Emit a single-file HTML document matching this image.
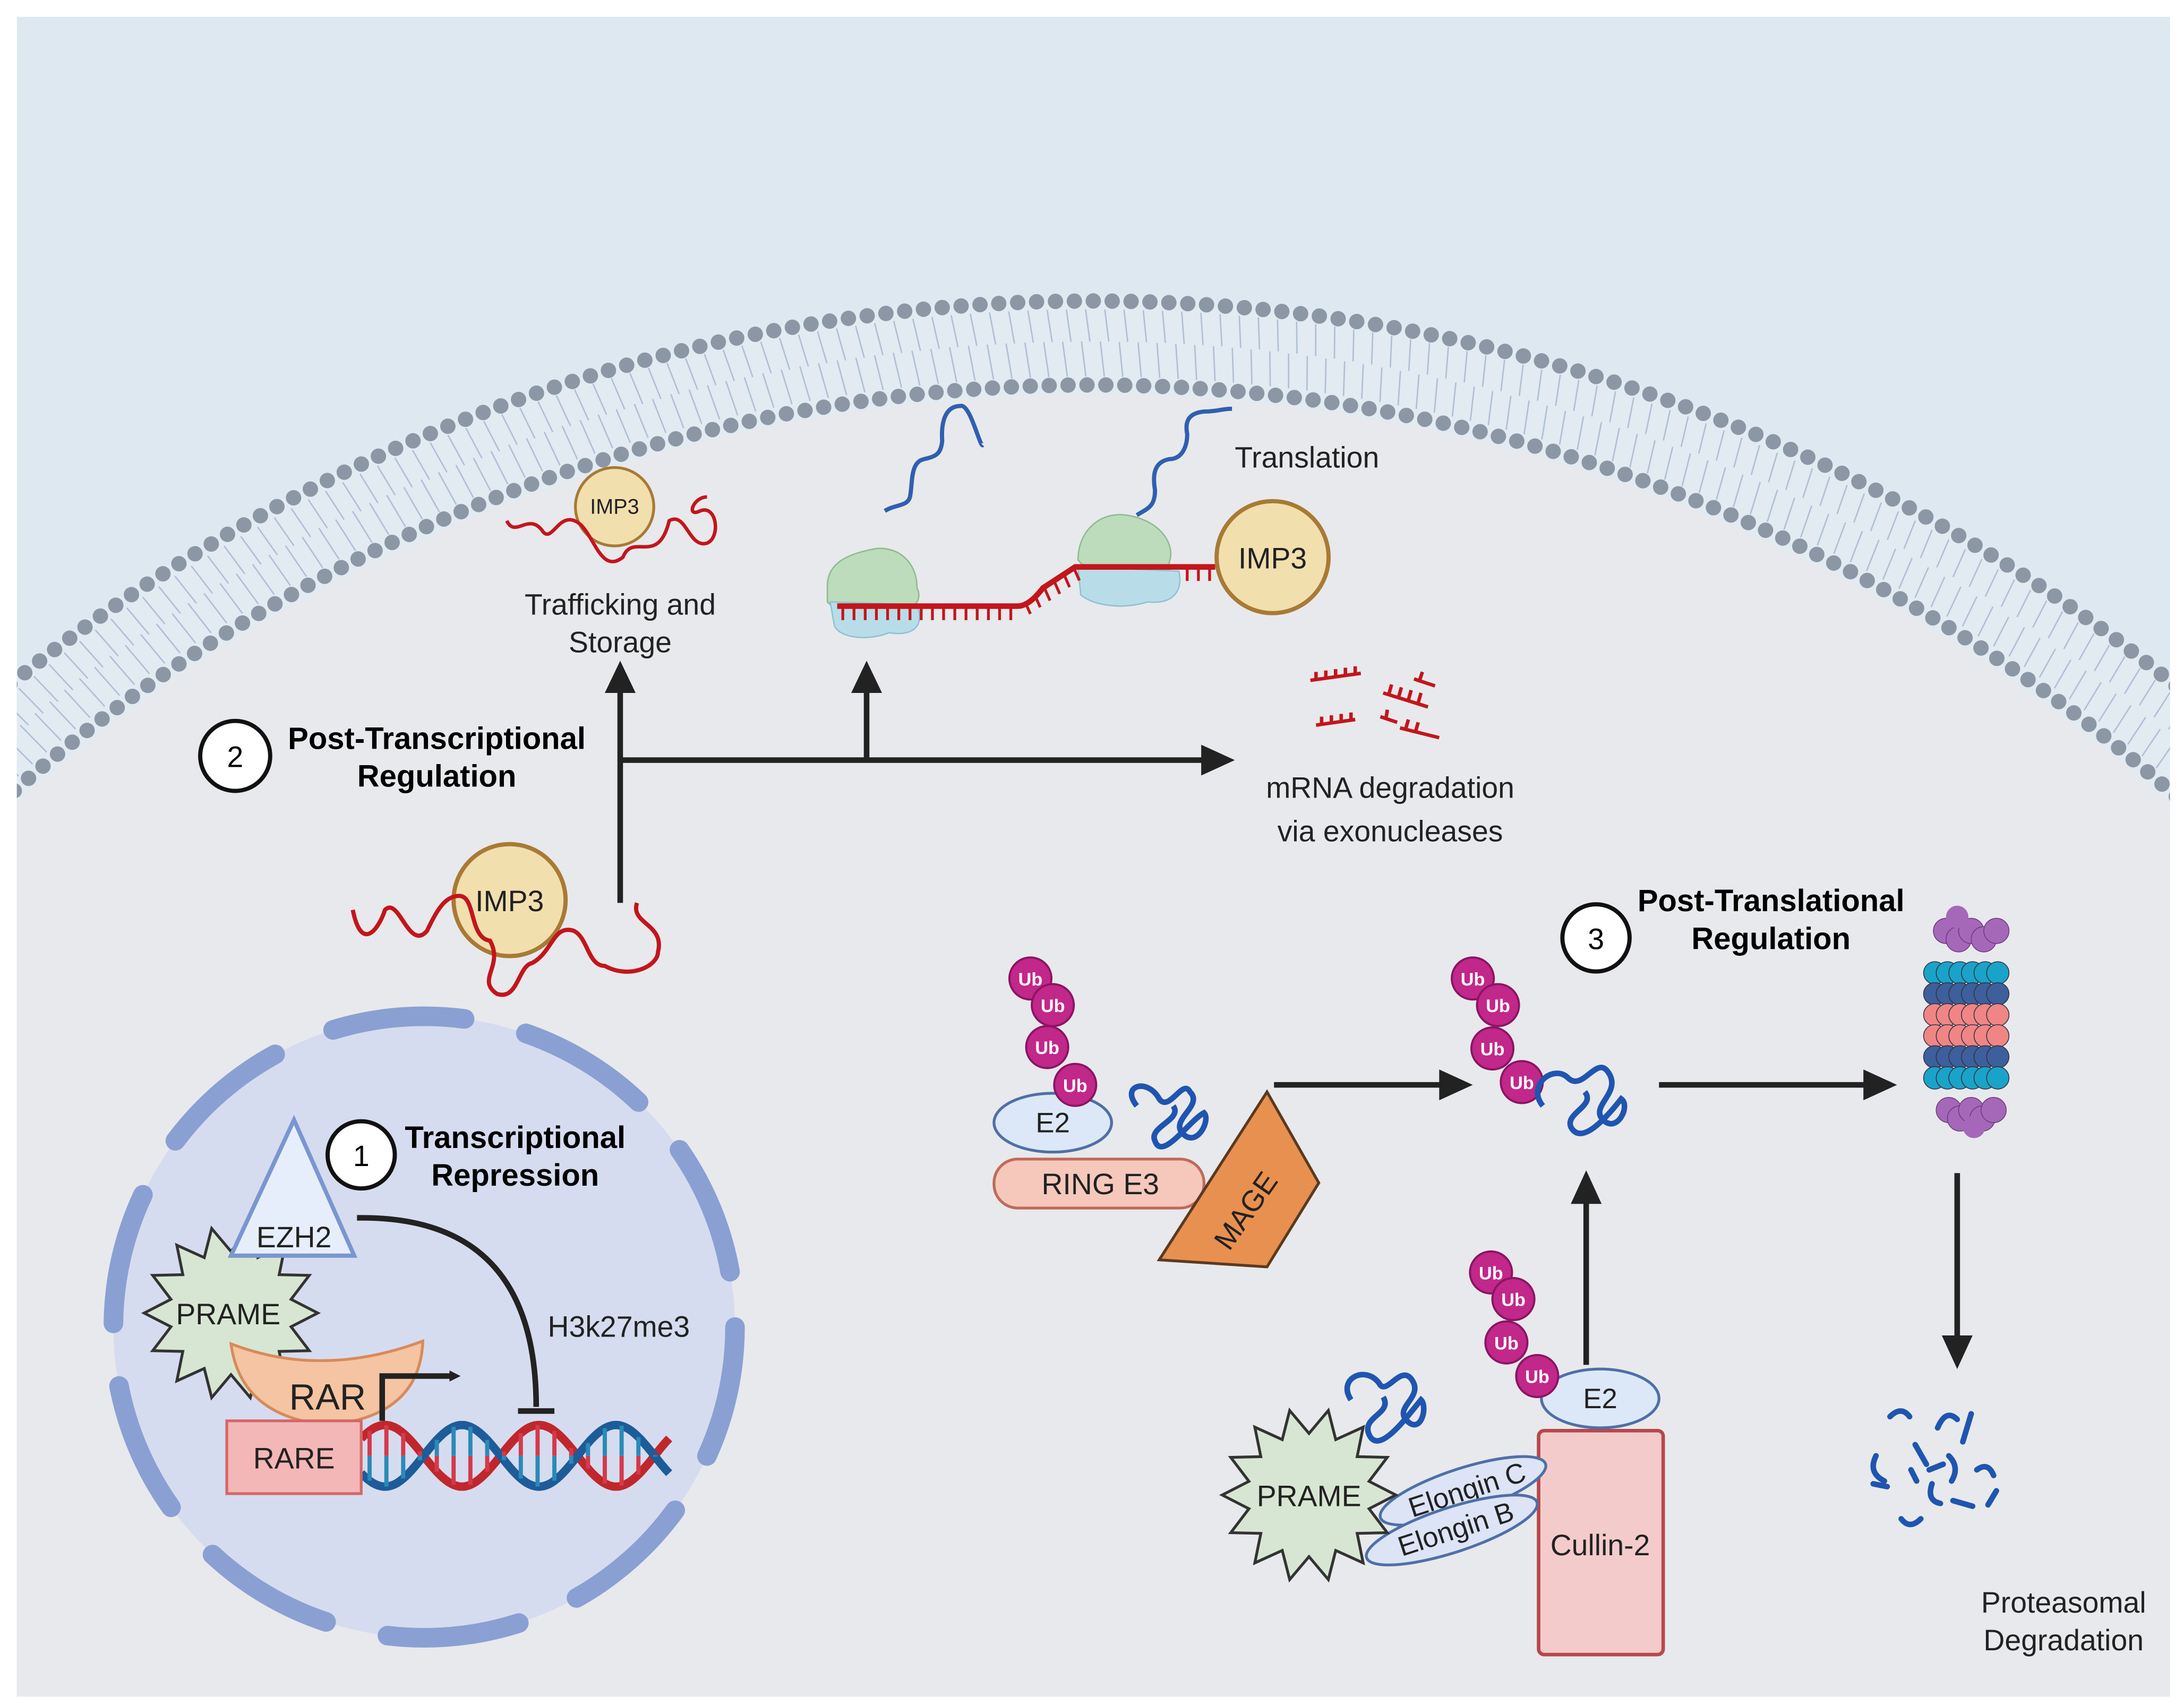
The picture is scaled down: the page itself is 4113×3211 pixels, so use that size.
<!DOCTYPE html>
<html><head><meta charset="utf-8"><style>
html,body{margin:0;padding:0;background:#fff;width:4113px;height:3211px;overflow:hidden;}
svg{display:block;position:absolute;left:0;top:0;}
text{font-family:"Liberation Sans",sans-serif;}
</style></head><body>
<svg id="s" width="4113" height="3211" viewBox="0 0 1560 1218" preserveAspectRatio="none" xmlns="http://www.w3.org/2000/svg">
<defs>
<clipPath id="panel"><rect x="12" y="12" width="1538" height="1200"/></clipPath>
<marker id="ah" markerWidth="8" markerHeight="8" refX="4" refY="4" orient="auto" markerUnits="userSpaceOnUse" viewBox="0 0 8 8"><path d="M0,0 L8,4 L0,8 z" fill="#222"/></marker>
</defs>
<rect width="1560" height="1218" fill="#fff"/>
<g clip-path="url(#panel)">
<rect x="12" y="12" width="1538" height="1200" fill="#dde8f1"/>
<circle cx="780" cy="1442" r="1230" fill="#e2eaf2"/>
<g id="lip"></g>
<circle cx="780" cy="1442" r="1160" fill="#e8e9ec"/>
<g id="dots"></g>
</g>

<!-- nucleus -->
<circle cx="303" cy="948" r="222" fill="#d6dcef"/>
<circle cx="303" cy="948" r="222" fill="none" stroke="#8aa0d3" stroke-width="14" stroke-linecap="round" stroke-dasharray="95 45"/>

<!-- PRAME star nucleus -->
<polygon id="star1" fill="#d7e6d2" stroke="#333" stroke-width="2"/>
<text x="163" y="946" font-size="21" text-anchor="middle" fill="#222">PRAME</text>
<!-- EZH2 -->
<polygon points="210,800 253,897 165,897" fill="#e6eefb" stroke="#7a96d0" stroke-width="3"/>
<text x="210" y="891" font-size="21" text-anchor="middle" fill="#222">EZH2</text>
<!-- RAR -->
<path d="M165,960 Q230,985 302,958 Q300,1012 234,1018 Q172,1012 165,960 z" fill="#f5c4a2" stroke="#d88a5a" stroke-width="2"/>
<text x="234" y="1007" font-size="26" text-anchor="middle" fill="#222">RAR</text>
<!-- DNA -->
<path id="dna1" fill="none" stroke="#c0272d" stroke-width="6"/>
<path id="dna2" fill="none" stroke="#1d5c99" stroke-width="6"/>
<g id="rungs"></g>
<rect x="162" y="1015" width="96" height="52" fill="#f3b7b7" stroke="#d46767" stroke-width="2"/>
<text x="210" y="1049" font-size="21" text-anchor="middle" fill="#222">RARE</text>
<path d="M273,1015 L273,983 L325,983" fill="none" stroke="#222" stroke-width="4" marker-end="url(#ah)"/>
<path d="M255,870 Q383,868 383,1005" fill="none" stroke="#222" stroke-width="4"/>
<line x1="370" y1="1008" x2="396" y2="1008" stroke="#222" stroke-width="4"/>
<text x="442" y="955" font-size="21" text-anchor="middle" fill="#222">H3k27me3</text>

<circle cx="258" cy="825" r="24" fill="#fff" stroke="#111" stroke-width="3"/>
<text x="258" y="833" font-size="21" text-anchor="middle">1</text>
<text x="368" y="820" font-size="22" font-weight="bold" text-anchor="middle">Transcriptional</text>
<text x="368" y="847" font-size="22" font-weight="bold" text-anchor="middle">Repression</text>

<!-- post-transcriptional -->
<circle cx="168" cy="540" r="25" fill="#fff" stroke="#111" stroke-width="3"/>
<text x="168" y="548" font-size="21" text-anchor="middle">2</text>
<text x="312" y="535" font-size="22" font-weight="bold" text-anchor="middle">Post-Transcriptional</text>
<text x="312" y="562" font-size="22" font-weight="bold" text-anchor="middle">Regulation</text>

<line x1="443" y1="645" x2="443" y2="493" stroke="#222" stroke-width="4"/>
<polygon points="443,472 432,495 454,495" fill="#222"/>
<line x1="443" y1="543" x2="860" y2="543" stroke="#222" stroke-width="4"/>
<polygon points="882,543 858,532 858,554" fill="#222"/>
<line x1="619" y1="543" x2="619" y2="493" stroke="#222" stroke-width="4"/>
<polygon points="619,472 608,495 630,495" fill="#222"/>

<!-- IMP3 lower -->
<circle cx="364" cy="643" r="40" fill="#f2dfae" stroke="#a87a35" stroke-width="3"/>
<text x="364" y="651" font-size="21" text-anchor="middle" fill="#222">IMP3</text>
<path d="M252,650 C258,680 270,665 275,650 C285,640 292,680 305,665 C312,650 318,640 328,640 C340,640 335,670 350,672 C360,690 340,700 355,710 C370,715 370,690 380,688 C395,680 395,660 410,665 C420,670 420,690 432,690 C450,700 470,690 470,680 C475,660 450,660 455,645" fill="none" stroke="#c3151c" stroke-width="3"/>
<!-- IMP3 small -->
<circle cx="439" cy="362" r="28" fill="#f2dfae" stroke="#a87a35" stroke-width="2"/>
<text x="439" y="367" font-size="15" text-anchor="middle" fill="#222">IMP3</text>
<path d="M362,372 C368,385 378,365 388,380 C395,388 400,362 415,375 C425,385 430,410 445,398 C452,380 470,405 478,372 C490,365 492,392 505,388 C515,384 512,360 500,365 C490,370 495,355 505,355" fill="none" stroke="#c3151c" stroke-width="2.5"/>
<text x="443" y="439" font-size="21" text-anchor="middle" fill="#222">Trafficking and</text>
<text x="443" y="466" font-size="21" text-anchor="middle" fill="#222">Storage</text>

<!-- translation -->
<path d="M591,420 C590,400 610,395 625,392 C640,390 655,400 655,420 C660,430 650,438 640,435 C620,440 600,440 591,430 z" fill="#bcdcbc" stroke="#90bb90" stroke-width="1"/>
<path d="M593,430 L655,432 C660,445 655,455 635,452 C620,458 600,456 596,447 z" fill="#b9dde8" stroke="#8cc3d4" stroke-width="1"/>
<path d="M770,400 C770,380 785,365 805,368 C830,372 840,390 835,402 C838,412 820,415 810,410 C795,412 780,412 770,400 z" fill="#bcdcbc" stroke="#90bb90" stroke-width="1"/>
<path d="M770,405 L842,408 C845,420 840,432 820,430 C800,436 780,432 772,425 z" fill="#b9dde8" stroke="#8cc3d4" stroke-width="1"/>
<path d="M598,433 L727,433 Q735,433 745,420 L768,405 L868,405" fill="none" stroke="#c3151c" stroke-width="4"/>
<g id="teeth" stroke="#c3151c" stroke-width="2"></g>
<path d="M632,365 C640,360 648,362 650,355 C652,345 650,330 660,328 C668,326 672,325 673,315 C672,300 676,290 686,290 C693,288 700,320 702,318" fill="none" stroke="#2f5fb0" stroke-width="3"/>
<path d="M812,368 C820,363 825,362 825,350 C823,338 825,330 835,328 C845,328 848,318 848,310 C846,300 850,295 860,294 C870,294 872,292 880,292" fill="none" stroke="#2f5fb0" stroke-width="3"/>
<circle cx="909" cy="398" r="40" fill="#f2dfae" stroke="#a87a35" stroke-width="3"/>
<text x="909" y="406" font-size="21" text-anchor="middle" fill="#222">IMP3</text>
<text x="882" y="334" font-size="21" fill="#222">Translation</text>

<!-- mRNA fragments -->
<g stroke="#c3151c" stroke-width="2.5" fill="none">
<path d="M936,486 L972,481 M940,486 l0,-6 M947,485 l0,-6 M954,484 l0,-6 M961,483 l0,-6 M968,482 l0,-6"/>
<path d="M988,495 L1020,505 M992,496 l2,-7 M999,498 l2,-7 M1006,500 l2,-7 M1013,502 l2,-7"/>
<path d="M940,518 L968,514 M944,518 l0,-6 M951,517 l0,-6 M958,516 l0,-6 M965,515 l0,-6"/>
<path d="M1010,485 L1025,490 M1014,486 l2,-6"/>
<path d="M1000,520 L1028,527 M1004,521 l2,-7 M1011,523 l2,-7"/>
<path d="M986,512 l12,4 M990,513 l1,-6"/>
</g>
<text x="993" y="570" font-size="21" text-anchor="middle" fill="#222">mRNA degradation</text>
<text x="993" y="601" font-size="21" text-anchor="middle" fill="#222">via exonucleases</text>

<!-- post-translational -->
<circle cx="1140" cy="670" r="24" fill="#fff" stroke="#111" stroke-width="3"/>
<text x="1140" y="678" font-size="21" text-anchor="middle">3</text>
<text x="1265" y="651" font-size="22" font-weight="bold" text-anchor="middle">Post-Translational</text>
<text x="1265" y="678" font-size="22" font-weight="bold" text-anchor="middle">Regulation</text>

<line x1="910" y1="775" x2="1030" y2="775" stroke="#222" stroke-width="4"/>
<polygon points="1052,775 1028,764 1028,786" fill="#222"/>
<line x1="1185" y1="775" x2="1333" y2="775" stroke="#222" stroke-width="4"/>
<polygon points="1355,775 1331,764 1331,786" fill="#222"/>
<line x1="1133" y1="975" x2="1133" y2="858" stroke="#222" stroke-width="4"/>
<polygon points="1133,836 1122,860 1144,860" fill="#222"/>
<line x1="1398" y1="838" x2="1398" y2="956" stroke="#222" stroke-width="4"/>
<polygon points="1398,978 1387,954 1409,954" fill="#222"/>

<!-- MAGE complex -->
<rect x="710" y="828" width="150" height="35" rx="17" fill="#f5c8bb" stroke="#c06a5a" stroke-width="2"/>
<text x="786" y="853" font-size="21" text-anchor="middle" fill="#222">RING E3</text>
<ellipse cx="752" cy="802" rx="42" ry="21" fill="#dce8f7" stroke="#4f6fa8" stroke-width="2"/>
<text x="752" y="809" font-size="20" text-anchor="middle" fill="#222">E2</text>
<polygon points="905,780 942,845 905,905 828,900" fill="#e8904f" stroke="#5a3a20" stroke-width="2"/>
<text x="890" y="872" font-size="21" text-anchor="middle" fill="#222" transform="rotate(-55 890 865)">MAGE</text>
<g id="ub1"></g>
<path d="M812,790 C800,775 820,770 828,785 C835,795 845,770 850,780 C860,790 835,800 845,810 C855,820 865,800 860,795 C850,800 830,830 825,815 C820,805 845,800 838,790" fill="none" stroke="#1f55b0" stroke-width="4"/>

<!-- middle -->
<g id="ub2"></g>
<path d="M1102,790 C1090,775 1110,760 1120,770 C1130,780 1140,755 1148,765 C1160,780 1135,790 1145,800 C1155,810 1165,790 1158,785 C1150,795 1130,820 1122,805 C1118,795 1140,790 1132,780" fill="none" stroke="#1f55b0" stroke-width="4"/>

<!-- proteasome -->
<g id="prot"></g>

<!-- PRAME complex -->
<rect x="1099" y="1022" width="89" height="160" rx="4" fill="#f4cbcb" stroke="#b8474a" stroke-width="2.5"/>
<text x="1143" y="1111" font-size="21" text-anchor="middle" fill="#222">Cullin-2</text>
<ellipse cx="1143" cy="999" rx="42" ry="21" fill="#dce8f7" stroke="#4f6fa8" stroke-width="2"/>
<text x="1143" y="1006" font-size="20" text-anchor="middle" fill="#222">E2</text>
<g id="ub3"></g>
<ellipse cx="1045" cy="1065" rx="62" ry="16" fill="#dce4f6" stroke="#4f6fa8" stroke-width="2" transform="rotate(-18 1045 1065)"/>
<text x="1048" y="1072" font-size="20" text-anchor="middle" fill="#222" transform="rotate(-18 1045 1065)">Elongin C</text>
<ellipse cx="1037" cy="1093" rx="64" ry="16" fill="#dce4f6" stroke="#4f6fa8" stroke-width="2" transform="rotate(-18 1037 1093)"/>
<text x="1040" y="1100" font-size="20" text-anchor="middle" fill="#222" transform="rotate(-18 1037 1093)">Elongin B</text>
<polygon id="star2" fill="#d7e6d2" stroke="#333" stroke-width="2"/>
<text x="935" y="1076" font-size="21" text-anchor="middle" fill="#222">PRAME</text>
<path d="M965,1000 C955,985 975,975 985,988 C990,998 1000,975 1008,985 C1018,998 995,1005 1005,1015 C1015,1025 1020,1005 1015,1000 C1005,1012 985,1040 978,1025 C972,1012 995,1010 988,998" fill="none" stroke="#1f55b0" stroke-width="4"/>

<!-- degraded -->
<g stroke="#1f55b0" stroke-width="4" fill="none" stroke-linecap="round">
<path d="M1350,1012 q8,-8 14,0"/><path d="M1340,1040 q-6,12 6,18"/><path d="M1368,1032 l8,14"/><path d="M1384,1020 q6,-14 14,-6"/>
<path d="M1392,1040 q8,8 2,18"/><path d="M1408,1010 l-6,20"/><path d="M1412,1050 q8,-6 12,4"/><path d="M1380,1060 q-4,12 6,14"/>
<path d="M1358,1085 q6,8 14,0"/><path d="M1395,1072 l14,4"/><path d="M1420,1075 l6,-10"/><path d="M1338,1060 l10,2"/>
<path d="M1365,1050 l4,8"/><path d="M1378,1050 l10,-4"/>
</g>
<text x="1474" y="1152" font-size="21" text-anchor="middle" fill="#222">Proteasomal</text>
<text x="1474" y="1179" font-size="21" text-anchor="middle" fill="#222">Degradation</text>
</svg>
<script>
var NS="http://www.w3.org/2000/svg";
function el(p,t,a){var e=document.createElementNS(NS,t);for(var k in a)e.setAttribute(k,a[k]);document.getElementById(p).appendChild(e);return e;}
var cx=780,cy=1442;
function row(R){var step=13.5/R;for(var a=Math.PI*0.5-1.2;a<=Math.PI*0.5+1.2;a+=step){var x=cx+R*Math.cos(a),y=cy-R*Math.sin(a);if(x<5||x>1555)continue;el("dots","circle",{cx:x.toFixed(1),cy:y.toFixed(1),r:5.5,fill:"#8c97a6"});}}
row(1227);row(1167);
var step=13.5/1200;
for(var a=Math.PI*0.5-1.2;a<=Math.PI*0.5+1.2;a+=step){var c=Math.cos(a),s=Math.sin(a);
var x1=cx+1221*c,y1=cy-1221*s,x2=cx+1198*c,y2=cy-1198*s,x3=cx+1173*c,y3=cy-1173*s;
el("lip","line",{x1:x1,y1:y1,x2:x2+3,y2:y2,stroke:"#aebfd6","stroke-width":1});
el("lip","line",{x1:x3,y1:y3,x2:x2-3,y2:y2,stroke:"#aebfd6","stroke-width":1});}
function star(id,x,y,ro,ri,n){var p=[];for(var i=0;i<2*n;i++){var r=i%2?ri:ro,a=i*Math.PI/n;p.push((x+r*Math.cos(a)).toFixed(1)+","+(y+r*Math.sin(a)).toFixed(1));}document.getElementById(id).setAttribute("points",p.join(" "));}
star("star1",165,938,62,44,14);star("star2",935,1068,62,44,14);
var d1="",d2="";for(var x=258;x<=478;x+=2){var t=(x-258)/110*2*Math.PI;var ya=1040-22*Math.sin(t+0.6),yb=1040+22*Math.sin(t+0.6);d1+=(x==258?"M":"L")+x+","+ya.toFixed(1);d2+=(x==258?"M":"L")+x+","+yb.toFixed(1);
if(x%12==0){var m=(ya+yb)/2;el("rungs","line",{x1:x,y1:ya,x2:x,y2:m,stroke:"#d43a4a","stroke-width":3});el("rungs","line",{x1:x,y1:m,x2:x,y2:yb,stroke:"#2a8ab8","stroke-width":3});}}
document.getElementById("dna1").setAttribute("d",d1);document.getElementById("dna2").setAttribute("d",d2);
for(var x=602;x<727;x+=8)el("teeth","line",{x1:x,y1:433,x2:x,y2:443});
for(var x=732;x<768;x+=7){var y=433-(x-727)*28/41;el("teeth","line",{x1:x,y1:y,x2:x+4,y2:y+9});}
for(var x=848;x<868;x+=8)el("teeth","line",{x1:x,y1:405,x2:x,y2:415});
function ub(id,pts){pts.forEach(function(p){el(id,"circle",{cx:p[0],cy:p[1],r:15,fill:"#c2278a",stroke:"#8a1563","stroke-width":1.5});var t=el(id,"text",{x:p[0],y:p[1]+5,"font-size":13,"font-weight":"bold","text-anchor":"middle",fill:"#fff"});t.textContent="Ub";});}
ub("ub1",[[736,699],[752,718],[748,748],[768,775]]);
ub("ub2",[[1052,699],[1070,718],[1066,749],[1087,773]]);
ub("ub3",[[1065,909],[1081,928],[1076,959],[1098,983]]);
var rc=["#1aa3c8","#3d5f9c","#f08585","#f08585","#3d5f9c","#1aa3c8"];
for(var r=0;r<6;r++){for(var i=0;i<6;i++){el("prot","circle",{cx:1382+i*9,cy:695+r*15,r:8,fill:rc[r],stroke:"#334","stroke-width":0.6});}}
for(var i=0;i<5;i++){el("prot","circle",{cx:1390+i*9,cy:665+(i%2)*6,r:9,fill:"#a568b8",stroke:"#6e3a80","stroke-width":0.6});el("prot","circle",{cx:1392+i*8,cy:793+(i%2)*6,r:9,fill:"#a568b8",stroke:"#6e3a80","stroke-width":0.6});}
el("prot","circle",{cx:1398,cy:655,r:8,fill:"#a568b8"});el("prot","circle",{cx:1410,cy:805,r:8,fill:"#a568b8"});
</script>
</body></html>
